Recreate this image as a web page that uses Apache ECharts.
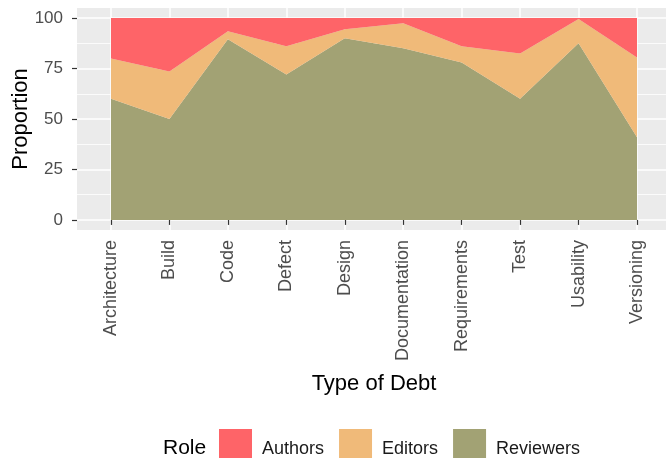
<!DOCTYPE html>
<html>
<head>
<meta charset="utf-8">
<script src="https://cdn.jsdelivr.net/npm/echarts@6/dist/echarts.min.js"></script>
<style>
  html, body { margin: 0; padding: 0; background: #fff; }
  #chart { width: 666px; height: 458px; }
</style>
</head>
<body>
<div id="chart"></div>
<script>
// debt types along the x axis
const categories = ['Architecture', 'Build', 'Code', 'Defect', 'Design', 'Documentation', 'Requirements', 'Test', 'Usability', 'Versioning']
// proportion per role (stacked, sums to 100)
const reviewers = [60, 50, 89.5, 72, 90, 85, 78, 60, 87.5, 41]
const editors = [20, 23.5, 4, 14, 4.5, 12.5, 8, 22.5, 12, 39.5]
const authors = [20, 26.5, 6.5, 14, 5.5, 2.5, 14, 17.5, 0.5, 19.5]
const yTicks = [0, 25, 50, 75, 100]
const yMinor = [12.5, 37.5, 62.5, 87.5]
const roles = ['Authors', 'Editors', 'Reviewers']

const colors = { Authors: '#FE6468', Editors: '#F0BA79', Reviewers: '#A2A274' }
const font = 'Liberation Sans, Arial, sans-serif'

const chart = echarts.init(document.getElementById('chart'))

function areaSeries(name, values) {
  return {
    name: name,
    type: 'line',
    stack: 'total',
    xAxisIndex: 0,
    yAxisIndex: 0,
    symbol: 'none',
    lineStyle: { width: 0 },
    areaStyle: { color: colors[name], opacity: 1 },
    itemStyle: { color: colors[name] },
    data: values
  }
}

const options = {
  animation: false,
  backgroundColor: '#FFF',
  textStyle: { fontFamily: font },
  grid: [
    // data grid: first and last category at the edges
    { left: 111, right: 29, top: 8, bottom: 228, show: false, outerBoundsMode: 'none' },
    // panel grid: ggplot style expanded panel behind it
    { left: 77, right: -6, top: 8, bottom: 228, show: true, backgroundColor: '#EBEBEB', borderWidth: 0, outerBoundsMode: 'none' }
  ],
  xAxis: [
    {
      gridIndex: 0,
      type: 'category',
      boundaryGap: false,
      data: categories,
      name: 'Type of Debt',
      nameLocation: 'middle',
      nameGap: 143,
      nameMoveOverlap: false,
      nameTextStyle: { fontSize: 22, color: '#000' },
      axisLine: { show: false },
      axisTick: { show: true, alignWithLabel: true, length: 5, lineStyle: { color: '#333', width: 1.2 } },
      axisLabel: { interval: 0, rotate: 90, margin: 10, fontSize: 18, color: '#4D4D4D' },
      splitLine: { show: true, interval: 0, lineStyle: { color: '#FFF', width: 1.5 } }
    },
    {
      gridIndex: 1,
      type: 'value',
      min: 0,
      max: 1,
      show: false
    }
  ],
  yAxis: [
    {
      gridIndex: 0,
      type: 'value',
      min: -5,
      max: 105,
      show: false
    },
    {
      gridIndex: 1,
      type: 'value',
      min: -5,
      max: 105,
      name: 'Proportion',
      nameLocation: 'middle',
      nameGap: 45,
      nameMoveOverlap: false,
      nameTextStyle: { fontSize: 22, color: '#000' },
      axisLine: { show: false },
      axisTick: { show: true, customValues: yTicks, length: 5, lineStyle: { color: '#333', width: 1.2 } },
      axisLabel: { customValues: yTicks, margin: 14, fontSize: 17, color: '#4D4D4D' },
      splitLine: { show: true, customValues: yTicks, lineStyle: { color: '#FFF', width: 1.5 } }
    },
    {
      gridIndex: 1,
      type: 'value',
      min: -5,
      max: 105,
      axisLine: { show: false },
      axisTick: { show: false, customValues: yMinor },
      axisLabel: { show: false, customValues: yMinor },
      splitLine: { show: true, customValues: yMinor, lineStyle: { color: '#FFF', width: 0.8 } }
    }
  ],
  legend: {
    data: roles,
    left: 214,
    top: 424,
    itemWidth: 33,
    itemHeight: 33,
    itemGap: 15,
    icon: 'rect',
    formatter: '{t|{name}}',
    textStyle: {
      fontSize: 18,
      color: '#1A1A1A',
      padding: [0, 0, 0, 5],
      rich: { t: { fontSize: 18, color: '#1A1A1A', padding: [7, 0, 0, 0] } }
    }
  },
  graphic: [
    {
      type: 'text',
      left: 163,
      top: 438,
      style: { text: 'Role', fontSize: 21, fill: '#000', fontFamily: font }
    }
  ],
  series: [
    areaSeries('Reviewers', reviewers),
    areaSeries('Editors', editors),
    areaSeries('Authors', authors)
  ]
}
chart.setOption(options)
</script>
</body>
</html>
